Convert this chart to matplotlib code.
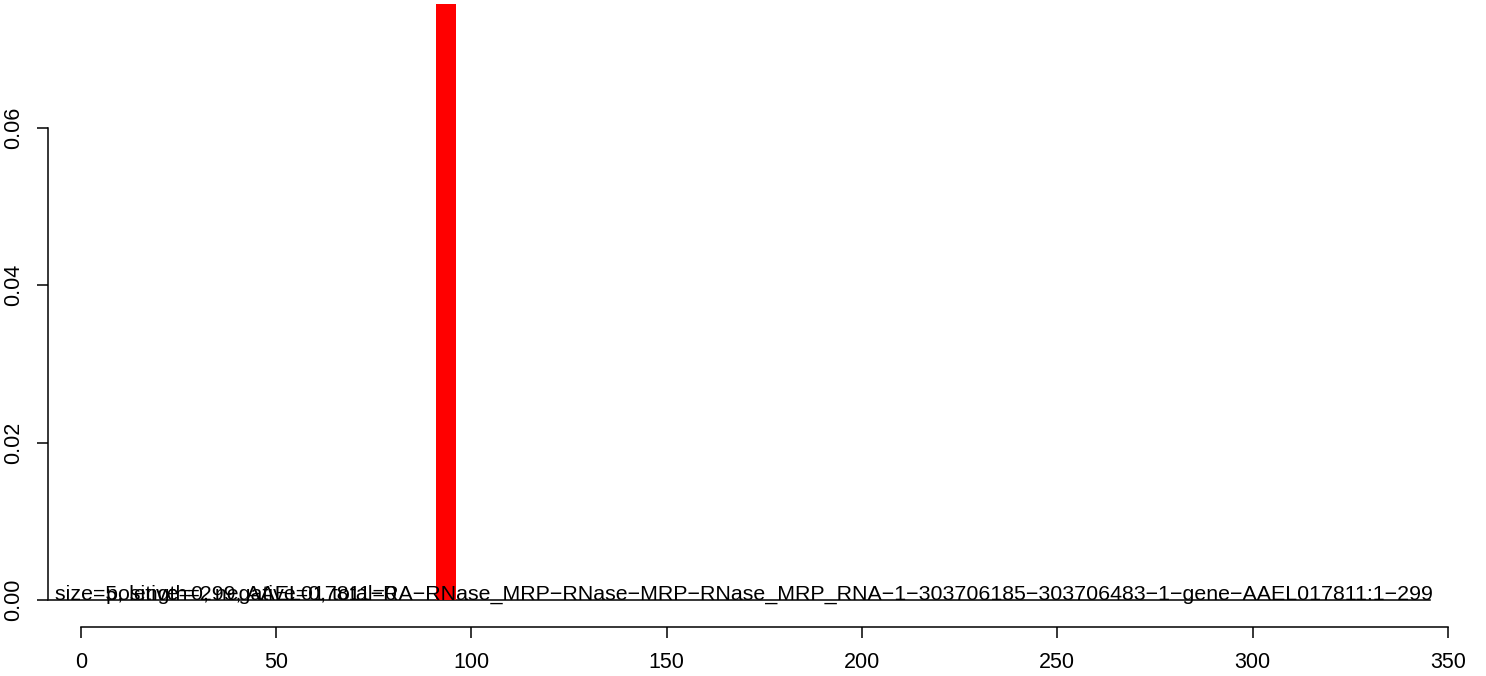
import matplotlib
matplotlib.use("Agg")
import matplotlib.pyplot as plt

plt.rcParams['font.family'] = ['Liberation Sans', 'DejaVu Sans']

# data
bar_left = [91]
bar_width = [5]
bar_height = [0.0758]
base_x = [-8.2, 345.4]
base_y = [0, 0]
x_ticks = [0, 50, 100, 150, 200, 250, 300, 350]
y_ticks = [0.00, 0.02, 0.04, 0.06]
y_tick_labels = ["0.00", "0.02", "0.04", "0.06"]
label_main = ("size=5, length=299, AAEL017811-RA-RNase_MRP-RNase-MRP-RNase_MRP_RNA-1-"
              "303706185-303706483-1-gene-AAEL017811:1-299").replace("-", "\u2212")
label_counts = "positive=0, negative=0, total=0"
label_main_x = -6.6
label_counts_x = 6.4

W, H = 1486, 676
fig = plt.figure(figsize=(W / 100, H / 100), dpi=100)
# axes box in pixel terms: left edge at 48, bottom at 627, top at 0
left_px, right_px, bottom_px, top_px = 48, 1470, 627, 0
ax = fig.add_axes([left_px / W, (H - bottom_px) / H,
                   (right_px - left_px) / W, (bottom_px - top_px) / H])

ppu_x = (1448 - 80.7) / 350.0
ax.set_xlim(-(80.7 - left_px) / ppu_x, (right_px - 80.7) / ppu_x)
ppu_y = (600 - 128) / 0.06
ax.set_ylim(-(bottom_px - 600) / ppu_y, (600 - top_px) / ppu_y)

ax.bar(bar_left, bar_height, width=bar_width, align='edge', color='#ff0000',
       edgecolor='none', zorder=3)
ax.plot(base_x, base_y, color='black', lw=1.1, zorder=2)

fs = 15.5
ax.text(label_main_x, 0, label_main, fontsize=15.4, ha='left', va='baseline', zorder=4)
ax.text(label_counts_x, 0, label_counts, fontsize=15.4, ha='left', va='baseline', zorder=4)

for s in ['top', 'right']:
    ax.spines[s].set_visible(False)
ax.spines['left'].set_bounds(0, 0.06)
ax.spines['bottom'].set_bounds(0, 350)
ax.spines['left'].set_linewidth(1.1)
ax.spines['bottom'].set_linewidth(1.1)

ax.set_xticks(x_ticks)
ax.set_xticklabels([str(v) for v in x_ticks])
ax.set_yticks(y_ticks)
ax.set_yticklabels(y_tick_labels, rotation=90, va='center')
ax.tick_params(axis='both', length=8, width=1.1, labelsize=fs, direction='out')
ax.tick_params(axis='x', pad=10)
ax.tick_params(axis='y', pad=9)

fig.savefig("out.png", dpi=100)
